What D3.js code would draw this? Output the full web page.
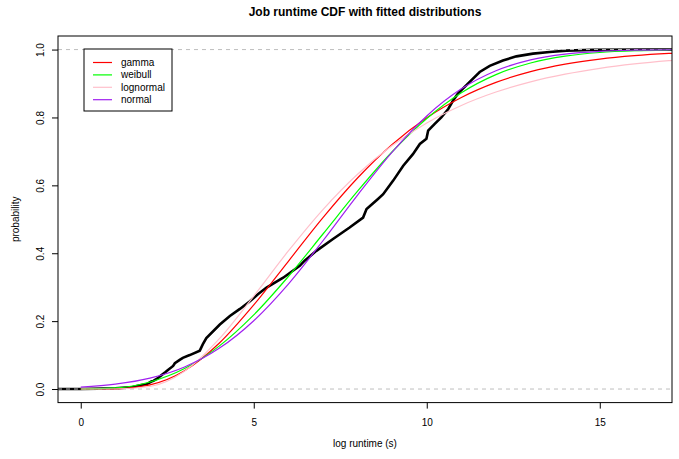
<!DOCTYPE html>
<html>
<head>
<meta charset="utf-8">
<script src="https://cdn.jsdelivr.net/npm/d3@7"></script>
<style>
  html, body { margin: 0; padding: 0; background: #fff; }
  svg { display: block; font-family: "Liberation Sans", Arial, Helvetica, sans-serif; }
</style>
</head>
<body>
<svg id="chart" width="679" height="459"></svg>
<script>
// ---- data ----
const title = "Job runtime CDF with fitted distributions";
const xLabel = "log runtime (s)";
const yLabel = "probability";
const dataRange = [0, 16.43];
const xTicks = [0, 5, 10, 15];
const yTicks = [0, 0.2, 0.4, 0.6, 0.8, 1.0];

const ecdfX = [0, 1.0, 1.5, 1.75, 1.9, 2.04, 2.1, 2.23, 2.3, 2.45, 2.52, 2.67, 2.72, 2.86, 2.95, 3.15, 3.44, 3.53, 3.63, 4.02, 4.31, 4.6, 4.88, 5.12, 5.37, 5.85, 6.33, 6.47, 6.81, 7.29, 7.77, 8.16, 8.26, 8.59, 8.74, 9.03, 9.32, 9.6, 9.8, 9.99, 10.04, 10.23, 10.42, 10.62, 10.76, 10.9, 11.24, 11.53, 11.82, 12.2, 12.59, 13.07, 13.55, 14.04, 14.8, 16.43];
const ecdfY = [0, 0.002, 0.006, 0.012, 0.014, 0.022, 0.024, 0.032, 0.038, 0.05, 0.056, 0.068, 0.076, 0.086, 0.092, 0.1, 0.113, 0.132, 0.15, 0.19, 0.215, 0.236, 0.258, 0.279, 0.299, 0.328, 0.363, 0.378, 0.407, 0.442, 0.476, 0.505, 0.53, 0.56, 0.574, 0.614, 0.658, 0.692, 0.722, 0.737, 0.761, 0.781, 0.8, 0.825, 0.85, 0.87, 0.905, 0.934, 0.952, 0.968, 0.98, 0.988, 0.993, 0.997, 0.999, 1.0];

const gridX = [0, 1, 2, 3, 4, 5, 6, 7, 8, 9, 10, 11, 12, 13, 14, 15, 16, 17, 18];
const gammaF = [0, 0.0007, 0.0122, 0.0537, 0.1347, 0.2477, 0.3764, 0.505, 0.6217, 0.7203, 0.799, 0.8589, 0.9033, 0.9349, 0.957, 0.972, 0.982, 0.9886, 0.9928];
const weibullF = [0, 0.0032, 0.0207, 0.0603, 0.1264, 0.2184, 0.3315, 0.4567, 0.5827, 0.6989, 0.797, 0.8728, 0.9262, 0.9605, 0.9807, 0.9914, 0.9965, 0.9987, 0.9996];
const lognormalF = [0, 0.0001, 0.0075, 0.0523, 0.1475, 0.2739, 0.4067, 0.5287, 0.6327, 0.7171, 0.7838, 0.8354, 0.8749, 0.9049, 0.9276, 0.9448, 0.9578, 0.9676, 0.9751];
const normalF = [0.0057, 0.0142, 0.0319, 0.0649, 0.1198, 0.2013, 0.3092, 0.4368, 0.5714, 0.6981, 0.8045, 0.8843, 0.9377, 0.9696, 0.9866, 0.9947, 0.9981, 0.9994, 0.9998];

const seriesNames = ["gamma", "weibull", "lognormal", "normal"];
const seriesColors = ["#FF0000", "#00FF00", "#FFC0CB", "#A020F0"];
const seriesValues = [gammaF, weibullF, lognormalF, normalF];

// ---- layout ----
const svg = d3.select("#chart");
const plot = { left: 58, right: 672, top: 36, bottom: 402.6 };
const r = dataRange[1] - dataRange[0];
const x = d3.scaleLinear()
  .domain([dataRange[0] - 0.04 * r, dataRange[1] + 0.04 * r])
  .range([plot.left, plot.right]);
const y = d3.scaleLinear().domain([-0.04, 1.04]).range([plot.bottom, plot.top]);

svg.append("defs").append("clipPath").attr("id", "clip")
  .append("rect")
  .attr("x", plot.left).attr("y", plot.top)
  .attr("width", plot.right - plot.left).attr("height", plot.bottom - plot.top);

const g = svg.append("g").attr("clip-path", "url(#clip)");

// ECDF
const ecdfPts = [[x.domain()[0], 0]]
  .concat(ecdfX.map((d, i) => [d, ecdfY[i]]))
  .concat([[x.domain()[1], 1]]);
g.append("path")
  .datum(ecdfPts)
  .attr("fill", "none")
  .attr("stroke", "#000")
  .attr("stroke-width", 2.6)
  .attr("stroke-linejoin", "miter")
  .attr("d", d3.line().x(d => x(d[0])).y(d => y(d[1])));

// reference lines at 0 and 1
g.selectAll("line.ref").data([0, 1]).enter().append("line")
  .attr("class", "ref")
  .attr("x1", plot.left).attr("x2", plot.right)
  .attr("y1", d => y(d)).attr("y2", d => y(d))
  .attr("stroke", "#BEBEBE").attr("stroke-width", 1)
  .attr("stroke-dasharray", "4,4");

// fitted curves
const curveLine = d3.line().x(d => x(d[0])).y(d => y(d[1])).curve(d3.curveMonotoneX);
seriesValues.forEach((vals, i) => {
  g.append("path")
    .datum(gridX.map((gx, j) => [gx, vals[j]]))
    .attr("fill", "none")
    .attr("stroke", seriesColors[i])
    .attr("stroke-width", 1.2)
    .attr("d", curveLine);
});

// frame
svg.append("rect")
  .attr("x", plot.left).attr("y", plot.top)
  .attr("width", plot.right - plot.left).attr("height", plot.bottom - plot.top)
  .attr("fill", "none").attr("stroke", "#000").attr("stroke-width", 1);

// x axis
const xAxis = svg.append("g")
  .attr("transform", `translate(0,${plot.bottom})`)
  .call(d3.axisBottom(x).tickValues(xTicks).tickSize(6).tickPadding(10).tickFormat(d3.format("d")));
xAxis.select(".domain").remove();
xAxis.selectAll("text").attr("font-size", 10).attr("fill", "#000")
  .attr("font-family", "Liberation Sans, Arial, sans-serif");
xAxis.selectAll("line").attr("stroke", "#000");

// y axis
const yAxis = svg.append("g")
  .attr("transform", `translate(${plot.left},0)`)
  .call(d3.axisLeft(y).tickValues(yTicks).tickSize(6).tickFormat(d3.format(".1f")));
yAxis.select(".domain").remove();
yAxis.selectAll("line").attr("stroke", "#000");
yAxis.selectAll("text")
  .attr("font-size", 10).attr("fill", "#000")
  .attr("font-family", "Liberation Sans, Arial, sans-serif")
  .attr("transform", "rotate(-90)")
  .attr("x", 0).attr("y", -18).attr("dy", null)
  .attr("text-anchor", "middle")
  .attr("dominant-baseline", "central");

// titles
svg.append("text")
  .attr("x", (plot.left + plot.right) / 2).attr("y", 12)
  .attr("text-anchor", "middle").attr("dominant-baseline", "central")
  .attr("font-size", 12).attr("font-weight", "bold")
  .text(title);
svg.append("text")
  .attr("x", (plot.left + plot.right) / 2).attr("y", 443)
  .attr("text-anchor", "middle").attr("dominant-baseline", "central")
  .attr("font-size", 10)
  .text(xLabel);
svg.append("text")
  .attr("transform", `translate(15,${(plot.top + plot.bottom) / 2}) rotate(-90)`)
  .attr("text-anchor", "middle").attr("dominant-baseline", "central")
  .attr("font-size", 10)
  .text(yLabel);

// legend
const leg = svg.append("g").attr("transform", "translate(84,49)");
leg.append("rect").attr("width", 88).attr("height", 62)
  .attr("fill", "#fff").attr("stroke", "#000").attr("stroke-width", 1);
seriesNames.forEach((name, i) => {
  const ly = 13.5 + i * 12.4;
  leg.append("line").attr("x1", 9).attr("x2", 28).attr("y1", ly).attr("y2", ly)
    .attr("stroke", seriesColors[i]).attr("stroke-width", 1.2);
  leg.append("text").attr("x", 37).attr("y", ly)
    .attr("dominant-baseline", "central").attr("font-size", 10)
    .text(name);
});
</script>
</body>
</html>
